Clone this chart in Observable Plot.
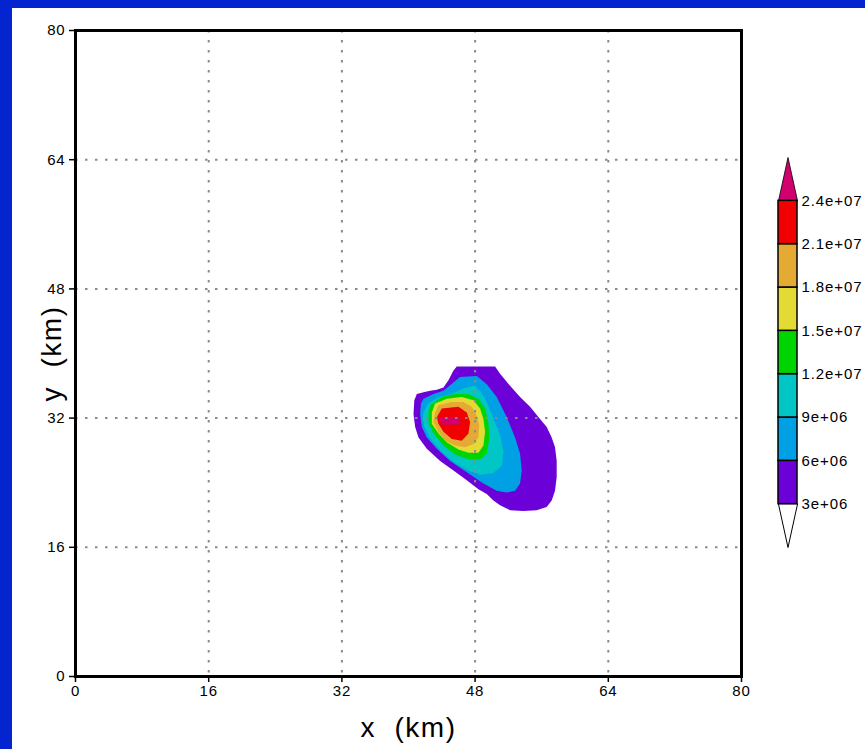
<!DOCTYPE html>
<html>
<head>
<meta charset="utf-8">
<script src="https://cdn.jsdelivr.net/npm/d3@7"></script>
<script src="https://cdn.jsdelivr.net/npm/@observablehq/plot@0.6"></script>
<style>
  html, body { margin: 0; padding: 0; width: 865px; height: 749px; overflow: hidden; background: #0424d0; }
  #panel { position: absolute; left: 12px; top: 8px; right: 0; bottom: 0; background: #ffffff; }
  #main { position: absolute; left: 0; top: 0; }
  #bar { position: absolute; left: 770px; top: 150px; }
</style>
</head>
<body>
<div id="panel"></div>
<div id="main"></div>
<div id="bar"></div>
<script>
// ---- data (km) ----
const xTicks = [0, 16, 32, 48, 64, 80];
const yTicks = [0, 16, 32, 48, 64, 80];
const gridTicks = [16, 32, 48, 64];

const levels = [3e6, 6e6, 9e6, 1.2e7, 1.5e7, 1.8e7, 2.1e7, 2.4e7];
const levelLabels = ["3e+06", "6e+06", "9e+06", "1.2e+07", "1.5e+07", "1.8e+07", "2.1e+07", "2.4e+07"];
const levelColors = ["#6c00d9", "#00a0e4", "#00c6c6", "#00d400", "#e4da34", "#e4aa34", "#f00000", "#d2006e"];
const belowColor = "#ffffff";

// contour polygons (x km, y km), one per threshold
const contour3e6 = [[45.8,38.4],[50.4,38.4],[51.0,37.5],[52.2,36.0],[53.4,34.6],[54.6,33.4],[55.8,31.9],[56.6,30.9],[57.2,29.6],[57.6,28.4],[57.8,26.7],[57.8,24.7],[57.6,23.0],[57.2,21.8],[56.6,21.0],[55.4,20.6],[53.8,20.5],[52.2,20.6],[51.0,21.2],[50.2,21.8],[49.4,22.6],[48.4,23.2],[47.0,24.3],[45.4,25.5],[43.8,26.7],[42.2,28.2],[41.2,29.6],[40.8,30.9],[40.6,32.5],[40.7,34.2],[41.0,35.0],[41.8,35.2],[42.6,35.4],[43.4,35.5],[44.2,35.8],[44.8,36.7],[45.4,37.9]];
const contour6e6 = [[41.8,34.4],[43.0,35.0],[44.2,35.4],[45.6,36.6],[46.2,37.1],[48.2,37.2],[49.4,36.2],[50.6,34.6],[51.8,32.1],[52.8,29.6],[53.4,27.6],[53.6,25.5],[53.4,23.9],[52.8,23.0],[51.8,22.8],[50.6,23.0],[49.0,23.9],[47.0,25.3],[45.0,26.7],[43.4,28.2],[42.2,29.6],[41.6,30.9],[41.4,32.5],[41.5,33.8]];
const contour9e6 = [[41.8,32.7],[42.4,33.8],[43.6,34.6],[45.2,35.0],[46.4,35.6],[47.8,36.0],[48.6,35.4],[49.4,34.0],[50.2,31.9],[51.0,29.9],[51.4,27.8],[51.2,26.1],[50.2,25.2],[48.6,25.0],[47.2,25.5],[45.6,26.4],[44.0,27.8],[42.8,29.2],[42.0,30.7],[41.7,31.9]];
const contour12e6 = [[42.6,33.6],[44.0,34.6],[45.6,35.0],[47.2,35.0],[48.4,34.4],[49.2,33.2],[49.6,31.5],[49.7,29.4],[49.4,27.6],[48.6,26.9],[47.2,26.9],[45.6,27.5],[44.2,28.6],[43.0,30.1],[42.4,31.5],[42.4,32.7]];
const contour15e6 = [[43.2,33.8],[44.6,34.4],[46.4,34.6],[47.8,34.2],[48.6,33.2],[49.0,31.9],[49.2,30.3],[49.0,28.6],[48.4,27.7],[47.2,27.7],[46.0,28.1],[44.6,29.0],[43.6,30.1],[42.8,31.3],[42.8,32.7]];
const contour18e6 = [[43.6,33.6],[45.2,34.0],[46.6,34.0],[47.6,33.4],[48.2,32.3],[48.5,31.1],[48.4,29.6],[47.8,28.8],[46.8,28.4],[45.6,28.6],[44.4,29.2],[43.6,30.3],[43.0,31.5],[43.2,32.7]];
const contour21e6 = [[44.0,33.2],[46.0,33.4],[47.0,32.7],[47.4,31.5],[47.2,30.1],[46.4,29.2],[45.2,29.4],[44.2,30.3],[43.6,31.3],[43.4,32.1]];
const contour24e6 = [[43.8,32.1],[46.2,32.1],[46.2,31.2],[43.9,31.2]];

const contours = [contour3e6, contour6e6, contour9e6, contour12e6, contour15e6, contour18e6, contour21e6, contour24e6];

const rows = [];
contours.forEach((poly, i) => {
  poly.forEach(([x, y]) => rows.push({x, y, level: levels[i]}));
});

const colorOf = new Map(levels.map((l, i) => [l, levelColors[i]]));

const tickFont = "'Liberation Sans', Arial, sans-serif";
const gridStyle = { stroke: "#8a8a8a", strokeWidth: 2, strokeDasharray: "2.5,7.5" };

const main = Plot.plot({
  width: 865,
  height: 749,
  marginLeft: 75,
  marginRight: 124,
  marginTop: 30,
  marginBottom: 73,
  style: { background: "transparent", fontFamily: tickFont, fontSize: "15px", color: "black" },
  x: { domain: [0, 80], label: null },
  y: { domain: [0, 80], label: null },
  marks: [
    Plot.line(rows, { x: "x", y: "y", z: "level", fill: d => colorOf.get(d.level), stroke: "none", curve: "linear-closed" }),
    Plot.ruleX(gridTicks, gridStyle),
    Plot.ruleY(gridTicks, gridStyle),
    Plot.frame({ stroke: "black", strokeWidth: 3 }),
    Plot.axisX({ ticks: xTicks, tickSize: 6, tickPadding: 3, tickFormat: d => String(d), label: null, strokeWidth: 1.5, fontSize: 15 }),
    Plot.axisY({ ticks: yTicks, tickSize: 6, tickPadding: 4, tickFormat: d => String(d), label: null, strokeWidth: 1.5, fontSize: 15 }),
    Plot.text(["x  (km)"], { frameAnchor: "bottom", dy: 52, fontSize: 28, fontFamily: tickFont, textAnchor: "middle", lineAnchor: "middle", fill: "black" }),
    Plot.text(["y  (km)"], { frameAnchor: "left", dx: -23, rotate: -90, fontSize: 28, fontFamily: tickFont, textAnchor: "middle", lineAnchor: "middle", fill: "black" })
  ]
});
main.querySelectorAll("text").forEach(t => {
  t.style.whiteSpace = "pre";
  t.style.letterSpacing = t.textContent.includes("km") ? "1.5px" : "0.8px";
});
document.getElementById("main").appendChild(main);

// ---- colorbar ----
const n = levels.length; // 8 boundaries, 7 boxes
const boxes = levels.slice(0, n - 1).map((l, i) => ({ i, fill: levelColors[i] }));
const topTri = [[0, n - 1], [0.5, n], [1, n - 1]].map(([x, y]) => ({ x, y, k: "top" }));
const botTri = [[0, 0], [0.5, -1], [1, 0]].map(([x, y]) => ({ x, y, k: "bot" }));
const labelRows = levels.map((l, i) => ({ i, label: levelLabels[i] }));

const bar = Plot.plot({
  width: 95,
  height: 410,
  marginLeft: 8,
  marginRight: 68,
  marginTop: 7,
  marginBottom: 13,
  style: { background: "transparent", fontFamily: tickFont, fontSize: "15px", color: "black", overflow: "visible" },
  x: { domain: [0, 1], axis: null },
  y: { domain: [-1, n], axis: null },
  marks: [
    Plot.line(botTri, { x: "x", y: "y", fill: belowColor, stroke: "black", strokeWidth: 1, curve: "linear-closed" }),
    Plot.line(topTri, { x: "x", y: "y", fill: levelColors[n - 1], stroke: "black", strokeWidth: 0.8, curve: "linear-closed" }),
    Plot.rect(boxes, { x1: 0, x2: 1, y1: d => d.i, y2: d => d.i + 1, fill: "fill", stroke: "black", strokeWidth: 1.5 }),
    Plot.text(labelRows, { x: 1, y: "i", text: "label", textAnchor: "start", dx: 4, fontSize: 15, fill: "black" })
  ]
});
bar.querySelectorAll("text").forEach(t => { t.style.letterSpacing = "0.9px"; });
document.getElementById("bar").appendChild(bar);
</script>
</body>
</html>
